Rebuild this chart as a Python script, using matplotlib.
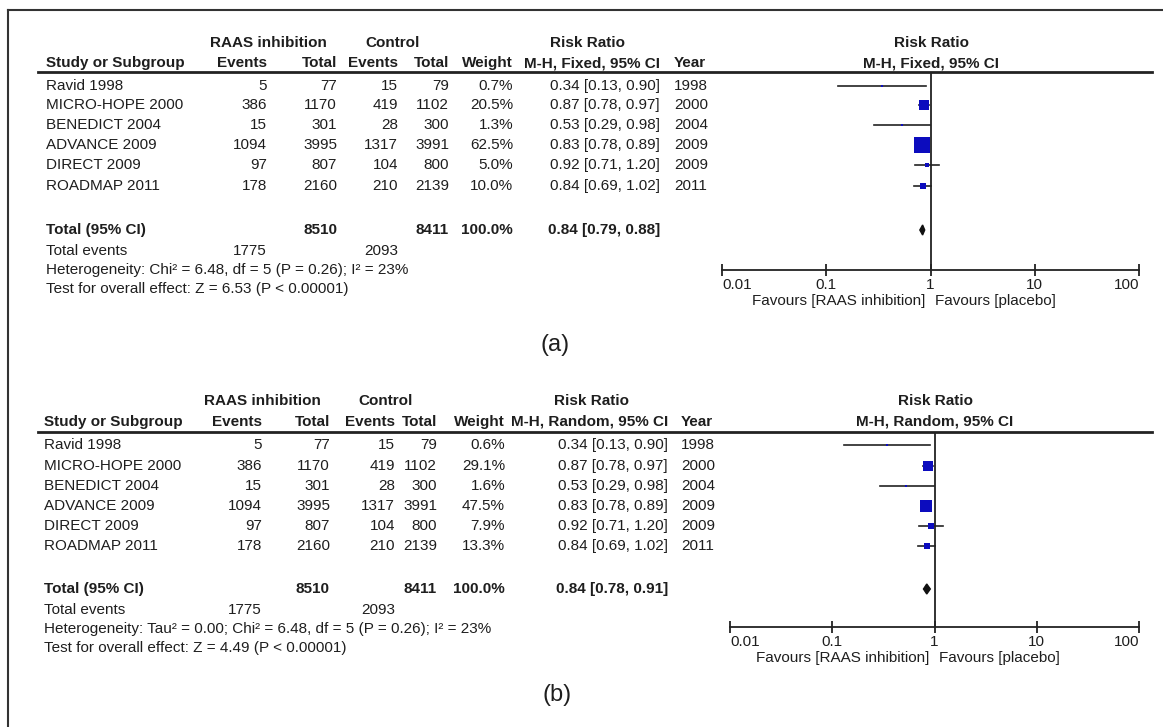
import matplotlib
matplotlib.use("Agg")
import matplotlib.pyplot as plt
import numpy as np

plt.rcParams['font.family'] = ['Liberation Sans', 'DejaVu Sans']

# Data
studies = ['Ravid 1998', 'MICRO-HOPE 2000', 'BENEDICT 2004', 'ADVANCE 2009', 'DIRECT 2009', 'ROADMAP 2011']
events_t = [5, 386, 15, 1094, 97, 178]
total_t = [77, 1170, 301, 3995, 807, 2160]
events_c = [15, 419, 28, 1317, 104, 210]
total_c = [79, 1102, 300, 3991, 800, 2139]
rr = [0.34, 0.87, 0.53, 0.83, 0.92, 0.84]
rr_lo = [0.13, 0.78, 0.29, 0.78, 0.71, 0.69]
rr_hi = [0.90, 0.97, 0.98, 0.89, 1.20, 1.02]
years = [1998, 2000, 2004, 2009, 2009, 2011]
weight_fixed = [0.7, 20.5, 1.3, 62.5, 5.0, 10.0]
weight_random = [0.6, 29.1, 1.6, 47.5, 7.9, 13.3]

sum_total_t = 8510
sum_total_c = 8411
sum_events_t = 1775
sum_events_c = 2093
fixed_summary = (0.84, 0.79, 0.88)
random_summary = (0.84, 0.78, 0.91)

het_fixed = 'Heterogeneity: Chi\u00b2 = 6.48, df = 5 (P = 0.26); I\u00b2 = 23%'
het_random = 'Heterogeneity: Tau\u00b2 = 0.00; Chi\u00b2 = 6.48, df = 5 (P = 0.26); I\u00b2 = 23%'
test_fixed = 'Test for overall effect: Z = 6.53 (P < 0.00001)'
test_random = 'Test for overall effect: Z = 4.49 (P < 0.00001)'

ticks = [0.01, 0.1, 1, 10, 100]
tick_labels = ['0.01', '0.1', '1', '10', '100']

TXT = '#1e1e1e'
BLUE = '#0c0cbe'
FS = 11

fig = plt.figure(figsize=(11.63, 7.27), dpi=100)
bg = fig.add_axes([0, 0, 1, 1])
bg.set_xlim(0, 1163)
bg.set_ylim(727, 0)
bg.axis('off')

# frame
bg.plot([8, 1163], [10, 10], color='#333333', lw=1.5)
bg.plot([8, 8], [10, 727], color='#333333', lw=1.5)


def ci_text(m, lo, hi):
    return f'{m:.2f} [{lo:.2f}, {hi:.2f}]'


def panel(lay, method, weights, summary, het, test, label, smax):
    c = lay['cols']
    t = lambda x, y, s, **kw: bg.text(x, y, s, va='center', fontsize=FS, color=TXT, **kw)
    y1, y2 = lay['h1'], lay['h2']
    t(c['raas'], y1, 'RAAS inhibition', ha='center', fontweight='bold')
    t(c['ctrl'], y1, 'Control', ha='center', fontweight='bold')
    t(c['rr'], y1, 'Risk Ratio', ha='center', fontweight='bold')
    t(lay['fc'], y1, 'Risk Ratio', ha='center', fontweight='bold')
    t(c['study'], y2, 'Study or Subgroup', ha='left', fontweight='bold')
    t(c['evt'], y2, 'Events', ha='right', fontweight='bold')
    t(c['tott'], y2, 'Total', ha='right', fontweight='bold')
    t(c['evc'], y2, 'Events', ha='right', fontweight='bold')
    t(c['totc'], y2, 'Total', ha='right', fontweight='bold')
    t(c['w'], y2, 'Weight', ha='right', fontweight='bold')
    t(c['ci'], y2, f'M-H, {method}, 95% CI', ha='right', fontweight='bold')
    t(c['year'], y2, 'Year', ha='left', fontweight='bold')
    t(lay['fc'], y2, f'M-H, {method}, 95% CI', ha='center', fontweight='bold')
    bg.plot([38, 1152], [lay['line'], lay['line']], color='#222222', lw=2)

    ys = lay['rows']
    for i, y in enumerate(ys):
        t(c['study'], y, studies[i], ha='left')
        t(c['evt'], y, str(events_t[i]), ha='right')
        t(c['tott'], y, str(total_t[i]), ha='right')
        t(c['evc'], y, str(events_c[i]), ha='right')
        t(c['totc'], y, str(total_c[i]), ha='right')
        t(c['w'], y, f'{weights[i]:.1f}%', ha='right')
        t(c['ci'], y, ci_text(rr[i], rr_lo[i], rr_hi[i]), ha='right')
        t(c['year'], y, str(years[i]), ha='left')

    yt = lay['total']
    t(c['study'], yt, 'Total (95% CI)', ha='left', fontweight='bold')
    t(c['tott'], yt, str(sum_total_t), ha='right', fontweight='bold')
    t(c['totc'], yt, str(sum_total_c), ha='right', fontweight='bold')
    t(c['w'], yt, f'{sum(weights):.1f}%', ha='right', fontweight='bold')
    t(c['ci'], yt, ci_text(*summary), ha='right', fontweight='bold')
    t(c['study'], lay['events'], 'Total events', ha='left')
    t(c['evt'], lay['events'], str(sum_events_t), ha='right')
    t(c['evc'], lay['events'], str(sum_events_c), ha='right')
    t(c['study'], lay['het'], het, ha='left')
    t(c['study'], lay['test'], test, ha='left')
    bg.text(lay['lx'], lay['ly'], label, ha='center', va='center', fontsize=17, color=TXT)

    # forest plot axes, y in pixel units
    x0, x1, ya = lay['fx0'], lay['fx1'], lay['axis']
    ax = fig.add_axes([x0 / 1163, 1 - ya / 727, (x1 - x0) / 1163, (ya - lay['line']) / 727])
    ax.set_xscale('log')
    ax.set_xlim(0.01, 100)
    ax.set_ylim(ya, lay['line'])
    ax.patch.set_alpha(0)
    for s in ['top', 'right', 'left']:
        ax.spines[s].set_visible(False)
    ax.spines['bottom'].set_color('#222222')
    ax.spines['bottom'].set_linewidth(1.3)
    ax.set_yticks([])
    ax.set_xticks(ticks)
    ax.set_xticklabels([])
    ax.xaxis.set_minor_locator(matplotlib.ticker.NullLocator())
    ax.tick_params(axis='x', direction='inout', length=9, width=1.3, color='#222222')
    ax.axvline(1, color='#222222', lw=1.3)

    wmax = max(weights)
    for i, y in enumerate(ys):
        ax.plot([rr_lo[i], rr_hi[i]], [y, y], color='#222222', lw=1.2, clip_on=False)
        size = smax * np.sqrt(weights[i] / wmax) * 0.72
        ax.plot(rr[i], y, marker='s', ms=max(size, 1.5), color=BLUE, mec=BLUE, mew=0, clip_on=False)
    m, lo, hi = summary
    ax.fill([lo, m, hi, m], [yt, yt - 5, yt, yt + 5], color='#111111', clip_on=False)

    for k, (v, lab) in enumerate(zip(ticks, tick_labels)):
        ha = 'left' if k == 0 else ('right' if k == len(ticks) - 1 else 'center')
        ax.text(v, ya + 15, lab, ha=ha, va='center', fontsize=FS, color=TXT, clip_on=False)
    ax.text(0.9, ya + 31, 'Favours [RAAS inhibition]', ha='right', va='center', fontsize=FS, color=TXT, clip_on=False)
    ax.text(1.1, ya + 31, 'Favours [placebo]', ha='left', va='center', fontsize=FS, color=TXT, clip_on=False)


lay_a = dict(
    cols=dict(study=46, evt=267, tott=337, evc=398, totc=449, w=513, ci=660, year=674,
              raas=268, ctrl=393, rr=587),
    h1=43, h2=63, line=72, rows=[86, 105, 125, 145, 165, 186],
    total=230, events=251, het=270, test=289, lx=555, ly=345,
    fc=931, fx0=722, fx1=1139, axis=270)
lay_b = dict(
    cols=dict(study=44, evt=262, tott=330, evc=395, totc=437, w=505, ci=668, year=681,
              raas=262, ctrl=386, rr=592),
    h1=401, h2=422, line=432, rows=[445, 466, 486, 506, 526, 546],
    total=589, events=610, het=629, test=648, lx=557, ly=695,
    fc=935, fx0=730, fx1=1139, axis=627)

panel(lay_a, 'Fixed', weight_fixed, fixed_summary, het_fixed, test_fixed, '(a)', 16)
panel(lay_b, 'Random', weight_random, random_summary, het_random, test_random, '(b)', 12.5)

fig.savefig('out.png', dpi=100)
